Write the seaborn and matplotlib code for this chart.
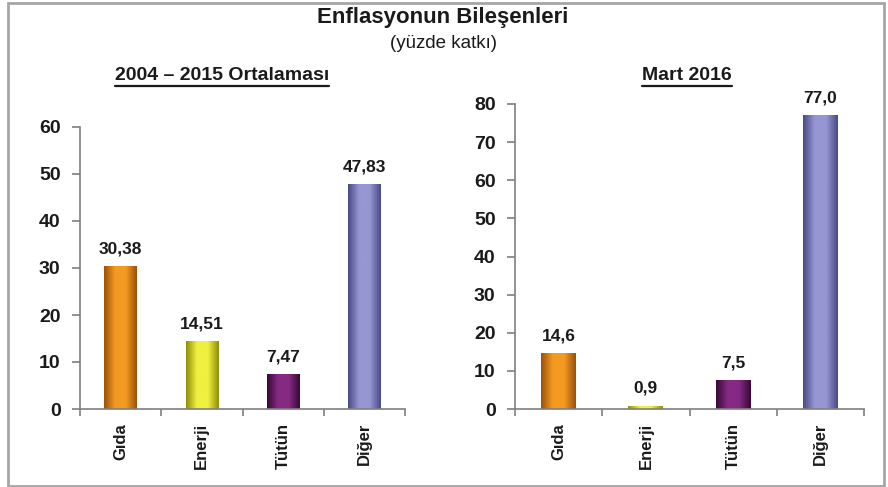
import numpy as np
import matplotlib
matplotlib.use("Agg")
import matplotlib.pyplot as plt
from matplotlib.colors import LinearSegmentedColormap
from matplotlib.lines import Line2D
from matplotlib.patches import Rectangle
import seaborn as sns

# data
categories = ["Gıda", "Enerji", "Tütün", "Diğer"]
avg_2004_2015 = [30.38, 14.51, 7.47, 47.83]
mart_2016 = [14.6, 0.9, 7.5, 77.0]
left_title = "2004 – 2015 Ortalaması"
right_title = "Mart 2016"

# (dark edge, light centre) per bar
bar_colors = {
    "Gıda": ("#9a520c", "#f49a22"),
    "Enerji": ("#8f8f0a", "#f0f040"),
    "Tütün": ("#3a0838", "#852a82"),
    "Diğer": ("#4a4a86", "#9696d2"),
}

sns.set_theme(style="white")
plt.rcParams["font.family"] = ["Liberation Sans", "DejaVu Sans"]
txt = "#1a1a1a"
axis_gray = "#7f7f7f"

fig = plt.figure(figsize=(8.88, 4.87), dpi=100)
fig.patch.set_facecolor("white")

ax1 = fig.add_axes([80 / 888, 78 / 487, 325 / 888, 282 / 487])
ax2 = fig.add_axes([515 / 888, 78 / 487, 349 / 888, 305 / 487])


def shade_bars(ax):
    for patch, cat in zip(ax.patches, categories):
        x0, y0 = patch.get_x(), patch.get_y()
        w, h = patch.get_width(), patch.get_height()
        dark, light = bar_colors[cat]
        cmap = LinearSegmentedColormap.from_list(cat, [dark, light, light, dark])
        grad = np.linspace(0, 1, 64).reshape(1, -1)
        im = ax.imshow(grad, extent=[x0, x0 + w, y0, y0 + h], aspect="auto",
                       cmap=cmap, zorder=patch.get_zorder(), interpolation="bicubic")
        im.set_clip_path(patch)
        patch.set_facecolor("none")
        patch.set_edgecolor("none")


def draw_panel(ax, values, ymax, fmt):
    sns.barplot(x=categories, y=values, hue=categories, palette=[bar_colors[c][1] for c in categories],
                legend=False, width=0.4, ax=ax, saturation=1)
    shade_bars(ax)
    ax.set_xlim(-0.5, 3.5)
    ax.set_ylim(0, ymax)
    ax.set_yticks(np.arange(0, ymax + 1, 10))
    for s in ["top", "right"]:
        ax.spines[s].set_visible(False)
    for s in ["left", "bottom"]:
        ax.spines[s].set_color(axis_gray)
        ax.spines[s].set_linewidth(1.2)
    ax.tick_params(axis="y", direction="out", length=6, width=1.2, color=axis_gray,
                   labelsize=14, labelcolor=txt, pad=8, left=True)
    ax.tick_params(axis="x", which="major", length=0, labelsize=12, labelcolor=txt,
                   labelrotation=90, pad=10)
    ax.set_xticks([-0.5, 0.5, 1.5, 2.5, 3.5], minor=True)
    ax.tick_params(axis="x", which="minor", direction="out", length=5, width=1.2,
                   color=axis_gray, bottom=True)
    for lab in ax.get_xticklabels() + ax.get_yticklabels():
        lab.set_fontweight("bold")
    ax.set_xlabel("")
    ax.set_ylabel("")
    for i, v in enumerate(values):
        ax.annotate(fmt.format(v).replace(".", ","), (i, v), xytext=(0, 7),
                    textcoords="offset points", ha="center", va="bottom",
                    fontsize=12.5, fontweight="bold", color=txt)


draw_panel(ax1, avg_2004_2015, 60, "{:.2f}")
draw_panel(ax2, mart_2016, 80, "{:.1f}")

fig.text(443 / 888, 1 - 17 / 487, "Enflasyonun Bileşenleri", ha="center", va="center",
         fontsize=16, fontweight="bold", color=txt)
fig.text(443 / 888, 1 - 44 / 487, "(yüzde katkı)", ha="center", va="center",
         fontsize=13.5, color=txt)

subs = [
    fig.text(222 / 888, 1 - 76 / 487, left_title, ha="center", va="center",
             fontsize=14, fontweight="bold", color=txt),
    fig.text(687 / 888, 1 - 76 / 487, right_title, ha="center", va="center",
             fontsize=14, fontweight="bold", color=txt),
]

# underline the panel titles
fig.canvas.draw()
renderer = fig.canvas.get_renderer()
for t in subs:
    bb = t.get_window_extent(renderer).transformed(fig.transFigure.inverted())
    yline = bb.y0 - 1 / 487
    fig.add_artist(Line2D([bb.x0, bb.x1], [yline, yline], color=txt, lw=1.6,
                          transform=fig.transFigure))

# outer frame
fig.add_artist(Rectangle((8 / 888, 1 / 487), 876 / 888, 483 / 487, transform=fig.transFigure,
                         fill=False, edgecolor="#a6a6a6", lw=2))

fig.savefig("out.png", dpi=100)
